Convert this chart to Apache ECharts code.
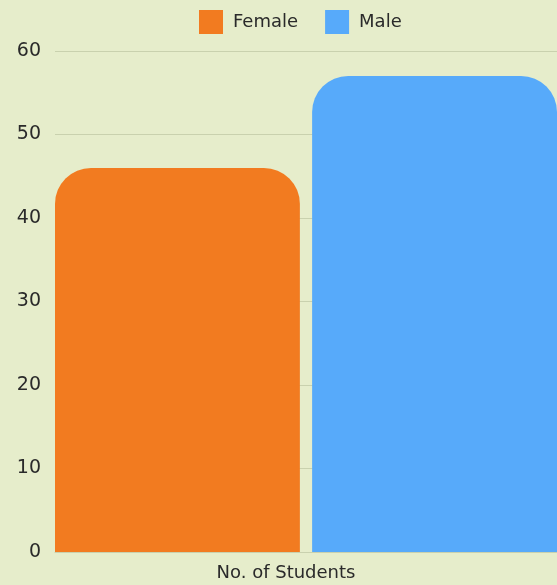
<!DOCTYPE html>
<html><head><meta charset="utf-8">
<script src="https://cdn.jsdelivr.net/npm/echarts@6/dist/echarts.min.js"></script>
<style>html,body{margin:0;padding:0;background:#e6edcb;}#c{width:557px;height:585px;}</style>
</head><body><div id="c"></div>
<script>
const categories = ["No. of Students"];
const femaleValues = [46];
const maleValues = [57];
const yTicks = [0, 10, 20, 30, 40, 50, 60];

const chart = echarts.init(document.getElementById('c'), null, {renderer: 'canvas'});
const font = '"DejaVu Sans", sans-serif';
chart.setOption({
  backgroundColor: '#e6edcb',
  animation: false,
  legend: {
    top: 10, left: 199, padding: 0,
    itemWidth: 24, itemHeight: 24, itemGap: 27,
    textStyle: {fontSize: 18, color: '#2a2a2a', fontFamily: font, padding: [0, 0, 0, 5]},
    icon: 'rect'
  },
  grid: {left: 55, right: 0, top: 51, bottom: 33, containLabel: false},
  xAxis: {
    type: 'category', data: categories,
    axisLine: {show: true, lineStyle: {color: '#c9d1ae'}},
    axisTick: {show: false},
    axisLabel: {fontSize: 18, color: '#2a2a2a', fontFamily: font, margin: 12, padding: [0, 40, 0, 0]}
  },
  yAxis: {
    type: 'value', min: yTicks[0], max: yTicks[yTicks.length - 1], interval: 10,
    axisLine: {show: false}, axisTick: {show: false},
    axisLabel: {fontSize: 19, color: '#2a2a2a', fontFamily: font, margin: 14},
    splitLine: {lineStyle: {color: '#c9d1ae', width: 1}}
  },
  series: [
    {name: 'Female', type: 'bar', data: femaleValues, barGap: '5%', barCategoryGap: '0%',
     itemStyle: {color: '#f27b20', borderRadius: [36, 36, 0, 0]}},
    {name: 'Male', type: 'bar', data: maleValues, barGap: '5%', barCategoryGap: '0%',
     itemStyle: {color: '#57aafa', borderRadius: [36, 36, 0, 0]}}
  ]
});
</script></body></html>
